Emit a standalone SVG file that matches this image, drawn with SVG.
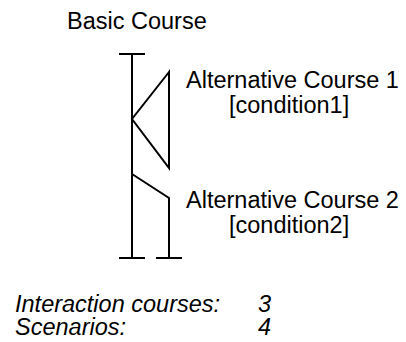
<svg xmlns="http://www.w3.org/2000/svg" width="406" height="342" viewBox="0 0 406 342">
<style>
.ln{stroke:#000;stroke-width:2;fill:none;stroke-linecap:butt;stroke-linejoin:miter}
.t{font-family:"Liberation Sans",Arial,sans-serif;font-size:23.5px;fill:#000}
.i{font-style:italic}
</style>
<rect width="406" height="342" fill="#fff"/>
<g id="connectors">
<path class="ln" d="M132,54 V258"/>
<path class="ln" d="M119,54 H145"/>
<path class="ln" d="M119,258 H145"/>
<path class="ln" d="M169,72 L132,119 L169,168 Z"/>
<path class="ln" d="M132,174 L169,198 V258"/>
<path class="ln" d="M156,258 H182"/>
</g>
<g id="basic-course"><text class="t" x="67" y="29">Basic Course</text></g>
<g id="alt-course-1">
<text class="t" x="186" y="88">Alternative Course 1</text>
<text class="t" x="229" y="113">[condition1]</text>
</g>
<g id="alt-course-2">
<text class="t" x="186" y="208">Alternative Course 2</text>
<text class="t" x="229" y="233">[condition2]</text>
</g>
<g id="summary">
<text class="t i" x="15" y="312">Interaction courses:</text>
<text class="t i" x="258" y="312">3</text>
<text class="t i" x="15" y="335">Scenarios:</text>
<text class="t i" x="258" y="335">4</text>
</g>
</svg>
